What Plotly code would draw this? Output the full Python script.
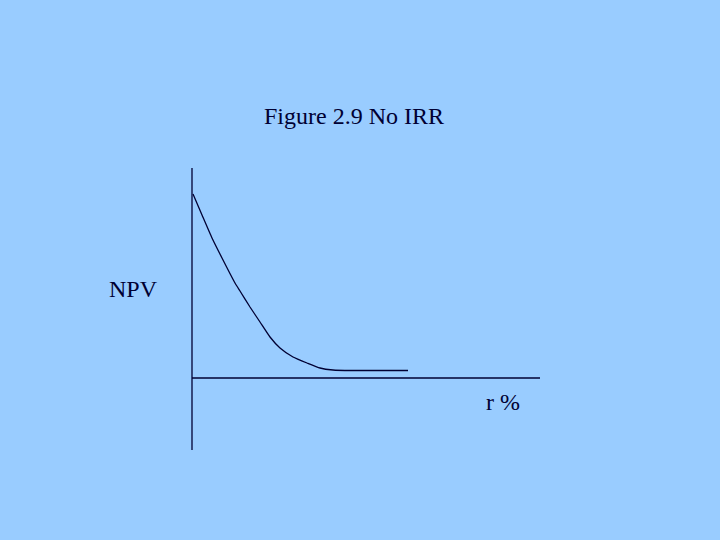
import plotly.graph_objects as go

# Curve data (r in arbitrary units from origin, NPV in arbitrary units)
r_vals = [1, 10, 20, 30, 43, 48, 58, 68, 78, 88, 101, 115, 128, 141, 160, 216]
npv_vals = [184, 163, 140, 120, 95, 87, 71, 56, 41, 30, 21, 15, 10, 8, 7.5, 7.5]

# Axis extents
x_axis_r = [0, 348]
x_axis_npv = [0, 0]
y_axis_r = [0, 0]
y_axis_npv = [-72, 210]

title_text = "Figure 2.9 No IRR"
y_label = "NPV"
x_label = "r %"

bg = "#99CCFF"
ink = "#000033"
font_family = "Liberation Serif"

fig = go.Figure()
fig.add_trace(go.Scatter(x=y_axis_r, y=y_axis_npv, mode="lines",
                         line=dict(color=ink, width=1.3), hoverinfo="skip"))
fig.add_trace(go.Scatter(x=x_axis_r, y=x_axis_npv, mode="lines",
                         line=dict(color=ink, width=1.3), hoverinfo="skip"))
fig.add_trace(go.Scatter(x=r_vals, y=npv_vals, mode="lines",
                         line=dict(color=ink, width=1.3, shape="spline", smoothing=0.5),
                         hoverinfo="skip"))

fig.add_annotation(x=162, y=262, text=title_text, showarrow=False,
                   font=dict(family=font_family, size=24, color=ink),
                   xanchor="center", yanchor="middle")
fig.add_annotation(x=-59, y=89, text=y_label, showarrow=False,
                   font=dict(family=font_family, size=24, color=ink),
                   xanchor="center", yanchor="middle")
fig.add_annotation(x=311, y=-24, text=x_label, showarrow=False,
                   font=dict(family=font_family, size=24, color=ink),
                   xanchor="center", yanchor="middle")

fig.update_layout(
    width=720, height=540,
    margin=dict(l=0, r=0, t=0, b=0),
    paper_bgcolor=bg, plot_bgcolor=bg,
    font=dict(family=font_family),
    showlegend=False,
    xaxis=dict(range=[-192, 528], visible=False, fixedrange=True),
    yaxis=dict(range=[-162, 378], visible=False, fixedrange=True),
)

fig.write_html(
    "out.html",
    config={"displayModeBar": False},
    post_script="document.body.style.margin='0';document.body.style.background='#99CCFF';",
)
